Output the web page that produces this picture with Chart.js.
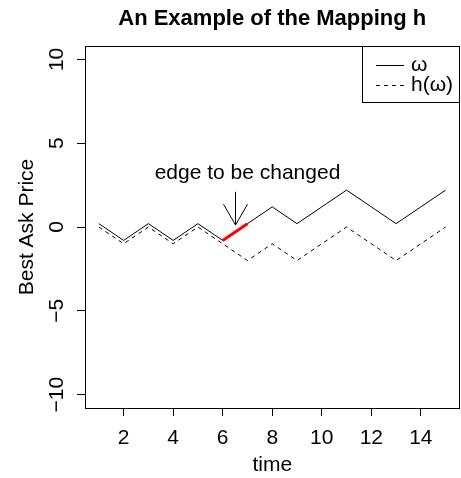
<!DOCTYPE html>
<html>
<head>
<meta charset="utf-8">
<script src="https://cdn.jsdelivr.net/npm/chart.js@4/dist/chart.umd.min.js"></script>
<style>
html,body{margin:0;padding:0;background:#fff;}
#wrap{width:461px;height:478px;}
</style>
</head>
<body>
<div id="wrap"><canvas id="c" width="461" height="478"></canvas></div>
<script>
// ---- data ----
const time = [1,2,3,4,5,6,7,8,9,10,11,12,13,14,15];
const omega = [0.2,-0.8,0.2,-0.8,0.2,-0.8,0.2,1.2,0.2,1.2,2.2,1.2,0.2,1.2,2.2];
const hOmega = [0,-1,0,-1,0,-1,-2,-1,-2,-1,0,-1,-2,-1,0];
const changedEdgeTime = [6,7];
const changedEdgeValue = [-0.8,0.2];
const xTicks = [2,4,6,8,10,12,14];
const yTicks = [-10,-5,0,5,10];
const xRange = [0.44,15.56];
const yRange = [-10.8,10.8];
const arrowTime = 6.5;
const arrowFrom = 2.1;
const arrowTo = 0.12;
const noteText = "edge to be changed";
const notePos = [7, 3.2];
const seriesNames = ["\u03c9", "h(\u03c9)"];
const titleText = "An Example of the Mapping h";
const xTitle = "time";
const yTitle = "Best Ask Price";

const FONT = '"Liberation Sans", Arial, Helvetica, sans-serif';
const FS = 21;
const minus = v => (v < 0 ? "\u2212" + Math.abs(v) : String(v));

const overlay = {
  id: 'overlay',
  afterDraw(chart) {
    const {ctx, chartArea: a, scales: {x, y}} = chart;
    ctx.save();
    ctx.strokeStyle = '#000';
    ctx.fillStyle = '#000';
    ctx.lineWidth = 1;
    // plot box
    ctx.strokeRect(Math.round(a.left) + 0.5, Math.round(a.top) + 0.5,
                   Math.round(a.right) - Math.round(a.left) - 1, Math.round(a.bottom) - Math.round(a.top));
    // y tick labels (rotated, parallel to axis)
    ctx.font = FS + 'px ' + FONT;
    ctx.textAlign = 'center';
    ctx.textBaseline = 'alphabetic';
    yTicks.forEach(v => {
      const py = y.getPixelForValue(v);
      ctx.save();
      ctx.translate(a.left - 22, py);
      ctx.rotate(-Math.PI / 2);
      ctx.fillText(minus(v), 0, 0);
      ctx.restore();
    });
    // y axis title
    ctx.save();
    ctx.translate(33, (a.top + a.bottom) / 2);
    ctx.rotate(-Math.PI / 2);
    ctx.fillText(yTitle, 0, 0);
    ctx.restore();
    // annotation text
    ctx.textBaseline = 'middle';
    ctx.fillText(noteText, x.getPixelForValue(notePos[0]), y.getPixelForValue(notePos[1]));
    // arrow
    const ax = Math.round(x.getPixelForValue(arrowTime)) + 0.5;
    const ay0 = y.getPixelForValue(arrowFrom);
    const ay1 = y.getPixelForValue(arrowTo);
    ctx.beginPath();
    ctx.moveTo(ax, ay0);
    ctx.lineTo(ax, ay1);
    const L = 24, ang = Math.PI / 6;
    const dir = Math.atan2(ay1 - ay0, 0);
    ctx.moveTo(ax - L * Math.cos(dir - ang), ay1 - L * Math.sin(dir - ang));
    ctx.lineTo(ax, ay1);
    ctx.lineTo(ax - L * Math.cos(dir + ang), ay1 - L * Math.sin(dir + ang));
    ctx.stroke();
    // legend
    const lx0 = 362.5, ly0 = a.top + 0.5, lx1 = Math.round(a.right) - 0.5, ly1 = 102.5;
    ctx.strokeRect(lx0, ly0, lx1 - lx0, ly1 - ly0);
    const rows = [65, 85];
    ctx.textAlign = 'left';
    ctx.textBaseline = 'alphabetic';
    rows.forEach((ry, i) => {
      ctx.beginPath();
      ctx.setLineDash(i === 0 ? [] : [4, 4]);
      ctx.moveTo(376, ry + 0.5);
      ctx.lineTo(404, ry + 0.5);
      ctx.stroke();
      ctx.setLineDash([]);
      ctx.fillText(seriesNames[i], 411, ry + 6);
    });
    ctx.restore();
  }
};

const toPts = (xs, ys) => xs.map((t, i) => ({x: t, y: ys[i]}));

new Chart(document.getElementById('c'), {
  type: 'line',
  data: {
    datasets: [
      {label: 'changed edge', data: toPts(changedEdgeTime, changedEdgeValue), borderColor: '#ff0000', borderWidth: 3, pointRadius: 0, order: 0},
      {label: seriesNames[0], data: toPts(time, omega), borderColor: '#000', borderWidth: 1, pointRadius: 0, order: 1},
      {label: seriesNames[1], data: toPts(time, hOmega), borderColor: '#000', borderWidth: 1, borderDash: [4, 4], pointRadius: 0, order: 2}
    ]
  },
  options: {
    responsive: false,
    animation: false,
    devicePixelRatio: 1,
    layout: {padding: {left: 0, right: 1.5, top: 0, bottom: 0}},
    elements: {line: {tension: 0, borderCapStyle: 'butt'}},
    plugins: {
      legend: {display: false},
      tooltip: {enabled: false},
      title: {
        display: true, text: titleText, fullSize: false, color: '#000',
        font: {family: FONT, size: 22, weight: 'bold', lineHeight: 1.2},
        padding: {top: 6.2, bottom: 13.4}
      }
    },
    scales: {
      x: {
        type: 'linear', position: 'bottom', min: xRange[0], max: xRange[1],
        afterBuildTicks: s => { s.ticks = xTicks.map(v => ({value: v})); },
        afterFit: s => { s.height = 70; },
        grid: {display: true, drawOnChartArea: false, drawTicks: true, tickLength: 8, color: '#000', tickColor: '#000', lineWidth: 1},
        border: {display: false},
        ticks: {color: '#000', font: {family: FONT, size: FS}, padding: 9.3, maxRotation: 0, minRotation: 0, autoSkip: false},
        title: {display: true, text: xTitle, color: '#000', font: {family: FONT, size: FS, lineHeight: 1.2}, padding: {top: 0, bottom: 0}}
      },
      y: {
        type: 'linear', position: 'left', min: yRange[0], max: yRange[1],
        afterBuildTicks: s => { s.ticks = yTicks.map(v => ({value: v})); },
        afterFit: s => { s.width = 85; },
        grid: {display: true, drawOnChartArea: false, drawTicks: true, tickLength: 8, color: '#000', tickColor: '#000', lineWidth: 1},
        border: {display: false},
        ticks: {display: false}
      }
    }
  },
  plugins: [overlay]
});
</script>
</body>
</html>
